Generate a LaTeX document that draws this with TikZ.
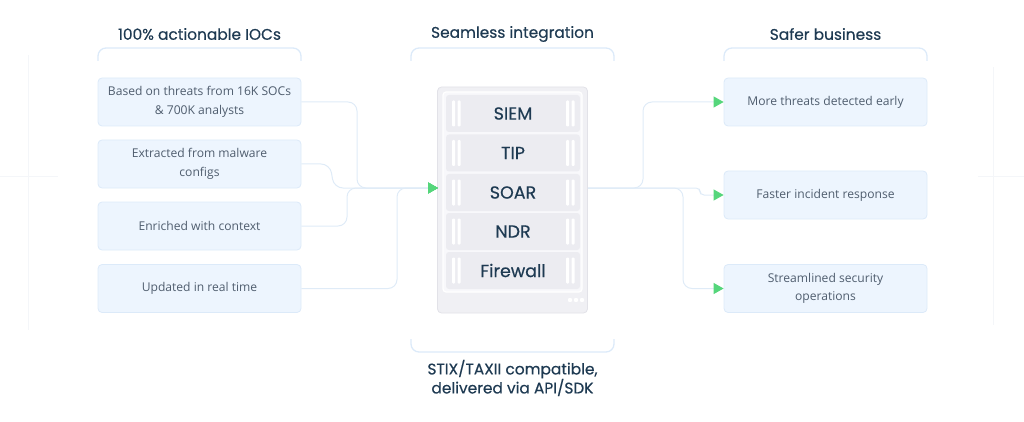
\documentclass[tikz,border=0pt]{standalone}
\usepackage{fontspec}
\setmainfont{Open Sans}
\newfontfamily\headfont{Poppins}[FakeBold=0.4]
\usetikzlibrary{arrows.meta}
\definecolor{BoxFill}{HTML}{EDF5FE}
\definecolor{BoxLine}{HTML}{DCEAF9}
\definecolor{LinkLine}{HTML}{DFEBF7}
\definecolor{BodyInk}{HTML}{4F5D6E}
\definecolor{TitleInk}{HTML}{1E3A52}
\definecolor{ArrowGreen}{HTML}{55D67B}
\definecolor{ServerFill}{HTML}{F0F0F4}
\definecolor{ServerLine}{HTML}{E2E2E8}
\definecolor{RackFill}{HTML}{F8F8FB}
\definecolor{SlotFill}{HTML}{ECECF1}
\definecolor{GhostLine}{HTML}{F4F6F9}

\tikzset{
  itembox/.style={draw=BoxLine, fill=BoxFill, rounded corners=4pt, line width=0.8pt,
    minimum width=203, minimum height=48, align=center, text=BodyInk,
    font=\fontsize{12.1}{18.5}\selectfont},
  heading/.style={text=TitleInk, align=center, font=\headfont\fontsize{15.4}{19}\selectfont},
  bracket/.style={draw=BoxLine, line width=1.3pt, rounded corners=8pt},
  link/.style={draw=LinkLine, line width=1pt, rounded corners=9pt},
  flow/.style={link, -{Triangle[length=10, width=11, color=ArrowGreen]}},
  slot/.style={fill=SlotFill, rounded corners=3pt, minimum width=134, minimum height=37,
    text=TitleInk, font=\headfont\fontsize{17.5}{20}\selectfont},
  grip/.style={fill=white, rounded corners=1pt}
}

\begin{document}
\begin{tikzpicture}[x=1pt, y=-1pt]
  \useasboundingbox (0,0) rectangle (1024,422);

  % Faint guide lines at the edges.
  \draw[GhostLine, line width=1pt] (28,55) -- (28,330) (0,176) -- (58,176);
  \draw[GhostLine, line width=1pt] (993,67) -- (993,325) (978,176) -- (1024,176);

  % Column headings and their brackets.
  \node[heading] (hIoc) at (199.5,34) {100\% actionable IOCs};
  \node[heading] (hInt) at (512.5,34) {Seamless integration};
  \node[heading] (hBiz) at (825.5,34) {Safer business};
  \draw[bracket] (98,61) -- (98,48) -- (301,48) -- (301,61);
  \draw[bracket] (411,61) -- (411,48) -- (614,48) -- (614,61);
  \draw[bracket] (724,61) -- (724,48) -- (927,48) -- (927,61);
  \draw[bracket] (411,339) -- (411,352) -- (614,352) -- (614,339);
  \node[heading] (hApi) at (512.5,378) {STIX/TAXII compatible,\\delivered via API/SDK};

  % Left column: IOC properties.
  \node[itembox] (ioc1) at (199.5,102) {Based on threats from 16K SOCs\\\& 700K analysts};
  \node[itembox] (ioc2) at (199.5,164) {Extracted from malware\\configs};
  \node[itembox] (ioc3) at (199.5,226) {Enriched with context};
  \node[itembox] (ioc4) at (199.5,288.5) {Updated in real time};

  % Right column: outcomes.
  \node[itembox] (win1) at (825.5,102) {More threats detected early};
  \node[itembox] (win2) at (825.5,195) {Faster incident response};
  \node[itembox] (win3) at (825.5,288.5) {Streamlined security\\operations};

  % The server rack.
  \node[draw=ServerLine, fill=ServerFill, rounded corners=4pt, line width=0.8pt,
    minimum width=150, minimum height=226] (server) at (512.5,200) {};
  \node[draw=white, fill=RackFill, rounded corners=3pt, line width=1.2pt,
    minimum width=139, minimum height=200] (rack) at (512.5,192) {};
  \foreach \name/\lab/\yy in {siem/SIEM/113.5, tip/TIP/153, soar/SOAR/192.5,
      ndr/NDR/231.5, fw/Firewall/270.5} {
    \node[slot] (\name) at (513,\yy) {\lab};
    \fill[grip] (452,\yy-13) rectangle (455,\yy+13);
    \fill[grip] (457.5,\yy-13) rectangle (460.5,\yy+13);
    \fill[grip] (566,\yy-13) rectangle (569,\yy+13);
    \fill[grip] (571.5,\yy-13) rectangle (574.5,\yy+13);
  }
  \foreach \xx in {570,576,582}
    \fill[white] (\xx,300) circle (2.2pt);

  \coordinate (inlet) at (438,188);
  \coordinate (outlet) at (588,188);

  % Feeds into the rack.
  \draw[flow] (ioc1.east) -- (357,102) -- (357,188) -- (inlet);
  \draw[flow] (ioc2.east) -- (330,164) -- (334,188) -- (inlet);
  \draw[flow] (ioc3.east) -- (347,226) -- (347,188) -- (inlet);
  \draw[flow] (ioc4.east) -- (397,288.5) -- (397,188) -- (inlet);

  % Outcomes out of the rack.
  \draw[flow] (outlet) -- (643,188) -- (643,102) -- (win1.west);
  \draw[flow, rounded corners=4pt] (outlet) -- (700,188) -- (700,195) -- (win2.west);
  \draw[flow] (outlet) -- (683,188) -- (683,288.5) -- (win3.west);
\end{tikzpicture}
\end{document}
